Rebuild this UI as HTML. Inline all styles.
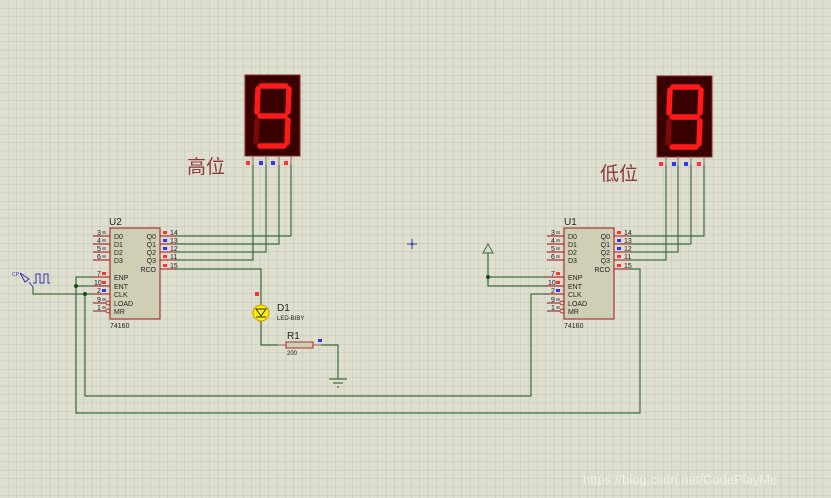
<!DOCTYPE html>
<html><head><meta charset="utf-8"><style>
html,body{margin:0;padding:0;width:831px;height:498px;overflow:hidden;background:#dfdfd0}
svg{display:block}
text{font-family:"Liberation Sans",sans-serif}
</style></head><body>
<svg width="831" height="498" xmlns="http://www.w3.org/2000/svg">
<defs>
<pattern id="g" width="8.4" height="8.4" patternUnits="userSpaceOnUse">
<rect width="8.4" height="8.4" fill="#dfdfd0"/>
<path d="M8.4 0V8.4M0 8.4H8.4" stroke="#c5c5b6" stroke-width="1"/>
</pattern>
<g id="seg">
<rect width="55" height="81" fill="#3a0000" stroke="#8b2a2a"/>
<g stroke="#ff1a1a" stroke-width="5.5" stroke-linecap="round" fill="none">
<line x1="16" y1="11" x2="41" y2="11"/>
<line x1="44" y1="14" x2="43" y2="37"/>
<line x1="43" y1="45" x2="42" y2="68"/>
<line x1="15" y1="71" x2="39" y2="71"/>
<line x1="13" y1="14" x2="12" y2="37"/>
<line x1="15" y1="41" x2="40" y2="41"/>
</g>
<line x1="12" y1="45" x2="11" y2="67" stroke="#7a0808" stroke-width="5.5" stroke-linecap="round"/>
</g>
<g id="chip" font-size="7" fill="#222">
<g stroke="#a33" stroke-width="1.2">
<line x1="-17" y1="8" x2="0" y2="8"/><line x1="-17" y1="16" x2="0" y2="16"/>
<line x1="-17" y1="24" x2="0" y2="24"/><line x1="-17" y1="32" x2="0" y2="32"/>
<line x1="-17" y1="49" x2="0" y2="49"/><line x1="-17" y1="58" x2="0" y2="58"/>
<line x1="-17" y1="66" x2="0" y2="66"/><line x1="-17" y1="75" x2="-4" y2="75"/>
<line x1="-17" y1="83" x2="-4" y2="83"/>
<line x1="50" y1="8" x2="66" y2="8"/><line x1="50" y1="16" x2="66" y2="16"/>
<line x1="50" y1="24" x2="66" y2="24"/><line x1="50" y1="32" x2="66" y2="32"/>
<line x1="50" y1="41" x2="66" y2="41"/>
</g>
<rect x="0" y="0" width="50" height="91" fill="#cfcfb6" stroke="#a33" stroke-width="1.2"/>
<circle cx="-2" cy="75" r="2" fill="none" stroke="#a33"/><circle cx="-2" cy="83" r="2" fill="none" stroke="#a33"/>
<text x="4" y="11">D0</text><text x="4" y="19">D1</text><text x="4" y="27">D2</text><text x="4" y="35">D3</text>
<text x="4" y="52">ENP</text><text x="4" y="61">ENT</text><text x="4" y="69">CLK</text><text x="4" y="78">LOAD</text><text x="4" y="86">MR</text>
<text x="46" y="11" text-anchor="end">Q0</text><text x="46" y="19" text-anchor="end">Q1</text><text x="46" y="27" text-anchor="end">Q2</text><text x="46" y="35" text-anchor="end">Q3</text><text x="46" y="44" text-anchor="end">RCO</text>
<text x="-13" y="7">3</text><text x="-13" y="15">4</text><text x="-13" y="23">5</text><text x="-13" y="31">6</text>
<text x="-13" y="48">7</text><text x="-16" y="57">10</text><text x="-13" y="65">2</text><text x="-13" y="74">9</text><text x="-13" y="82">1</text>
<text x="60" y="7">14</text><text x="60" y="15">13</text><text x="60" y="23">12</text><text x="60" y="31">11</text><text x="60" y="40">15</text>
<g><rect x="-8" y="3" width="4" height="3" fill="#999"/><rect x="-8" y="11" width="4" height="3" fill="#999"/><rect x="-8" y="19" width="4" height="3" fill="#999"/><rect x="-8" y="27" width="4" height="3" fill="#999"/>
<rect x="-8" y="44" width="4" height="3" fill="#f33"/><rect x="-8" y="53" width="4" height="3" fill="#f33"/><rect x="-8" y="61" width="4" height="3" fill="#33f"/><rect x="-8" y="70" width="4" height="3" fill="#999"/><rect x="-8" y="78" width="4" height="3" fill="#999"/>
<rect x="53" y="3" width="4" height="3" fill="#f33"/><rect x="53" y="11" width="4" height="3" fill="#33f"/><rect x="53" y="19" width="4" height="3" fill="#33f"/><rect x="53" y="27" width="4" height="3" fill="#f33"/><rect x="53" y="36" width="4" height="3" fill="#f33"/></g>
<text x="0" y="100">74160</text>
</g>
</defs>
<rect width="831" height="498" fill="url(#g)"/>
<g fill="none" stroke="#3c6e3c" stroke-width="1.2">
<path d="M175 236H291V165M175 244H279V165M175 252H266V165M175 260H253V165"/>
<path d="M175 269H261V303M261 321V345H286M313 345H338V379"/>
<path d="M630 236H704V165M630 244H691V165M630 252H678V165M630 260H666V165"/>
<path d="M630 269H640V413H76V277H93M76 286H93"/>
<path d="M33 287V294H93M85 294V396H531V294H547"/>
<path d="M488 253V286H547M488 277H547"/>
</g>
<g fill="#1a4a1a"><circle cx="76" cy="286" r="2"/><circle cx="85" cy="294" r="2"/><circle cx="488" cy="277" r="2"/></g>
<g stroke="#3c6e3c" stroke-width="1.2"><line x1="329" y1="379" x2="347" y2="379"/><line x1="333" y1="383" x2="343" y2="383"/><line x1="337" y1="387" x2="339" y2="387"/></g>
<polygon points="488,244 483,253 493,253" fill="none" stroke="#3c6e3c"/>
<use href="#seg" x="245" y="75"/>
<use href="#seg" x="657" y="76"/>
<g stroke="#8b6a6a"><line x1="253" y1="156" x2="253" y2="165"/><line x1="266" y1="156" x2="266" y2="165"/><line x1="279" y1="156" x2="279" y2="165"/><line x1="291" y1="156" x2="291" y2="165"/>
<line x1="666" y1="156" x2="666" y2="165"/><line x1="678" y1="156" x2="678" y2="165"/><line x1="691" y1="156" x2="691" y2="165"/><line x1="704" y1="156" x2="704" y2="165"/></g>
<g><rect x="246" y="161" width="4" height="4" fill="#f33"/><rect x="259" y="161" width="4" height="4" fill="#33f"/><rect x="271" y="161" width="4" height="4" fill="#33f"/><rect x="284" y="161" width="4" height="4" fill="#f33"/>
<rect x="659" y="162" width="4" height="4" fill="#f33"/><rect x="672" y="162" width="4" height="4" fill="#33f"/><rect x="684" y="162" width="4" height="4" fill="#33f"/><rect x="697" y="162" width="4" height="4" fill="#f33"/></g>
<text x="187" y="173" font-size="19" fill="#8b3a3a" style="font-family:'Liberation Sans','Noto Sans CJK SC',sans-serif">高位</text>
<text x="600" y="180" font-size="19" fill="#8b3a3a" style="font-family:'Liberation Sans','Noto Sans CJK SC',sans-serif">低位</text>
<text x="109" y="225" font-size="10" fill="#222">U2</text>
<use href="#chip" x="110" y="228"/>
<text x="564" y="225" font-size="10" fill="#222">U1</text>
<use href="#chip" x="564" y="228"/>
<rect x="255" y="292" width="4" height="4" fill="#f33"/>
<line x1="261" y1="303" x2="261" y2="321" stroke="#3c6e3c"/>
<circle cx="261" cy="313" r="8" fill="#ffee00" stroke="#c9a000"/>
<polygon points="256,309 266,309 261,316" fill="none" stroke="#333"/>
<line x1="256" y1="317" x2="266" y2="317" stroke="#333"/>
<text x="277" y="311" font-size="10" fill="#222">D1</text>
<text x="277" y="320" font-size="6" fill="#222">LED-BIBY</text>
<line x1="278" y1="345" x2="321" y2="345" stroke="#c88"/>
<rect x="286" y="342" width="27" height="6" fill="#cfcfb6" stroke="#a33"/>
<rect x="318" y="339" width="4" height="3" fill="#33f"/>
<text x="287" y="339" font-size="10" fill="#222">R1</text>
<text x="287" y="355" font-size="6" fill="#222">200</text>
<text x="12" y="276" font-size="5" fill="#33a">CP</text>
<polygon points="20,273 29,279 25,282" fill="none" stroke="#33a"/>
<line x1="29" y1="282" x2="33" y2="287" stroke="#33a"/>
<path d="M33 283H36V274H40V283H44V274H48V283H50" fill="none" stroke="#33a"/>
<path d="M412 239V249M407 244H417" stroke="#44a" stroke-width="1"/>
<circle cx="412" cy="244" r="1.5" fill="#44a"/>
<text x="583" y="484" font-size="13" fill="#f4f4ee" opacity="0.85">https://blog.csdn.net/CodePlayMe</text>
</svg>
</body></html>
